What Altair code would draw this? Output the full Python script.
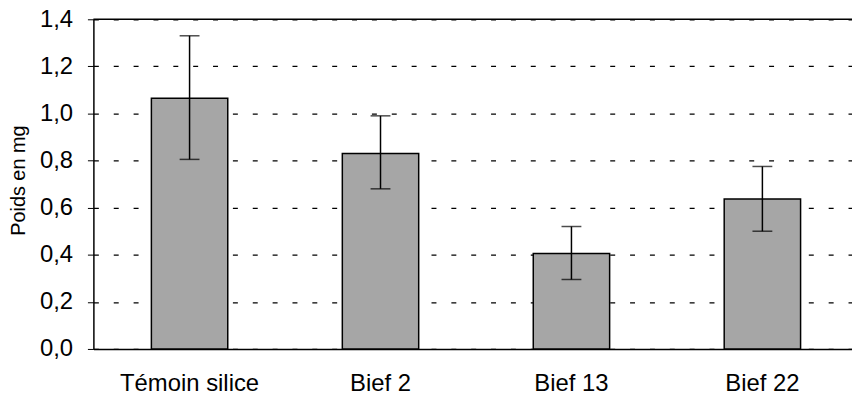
import altair as alt
import pandas as pd

categories = ["Témoin silice", "Bief 2", "Bief 13", "Bief 22"]
means = [1.065, 0.83, 0.405, 0.637]
err_low = [0.805, 0.68, 0.295, 0.50]
err_high = [1.33, 0.99, 0.52, 0.775]
y_ticks = [0.0, 0.2, 0.4, 0.6, 0.8, 1.0, 1.2, 1.4]

df = pd.DataFrame({"cat": categories, "mean": means, "lo": err_low, "hi": err_high})

FONT = "Liberation Sans"

x_scale = alt.Scale(paddingInner=0.6, paddingOuter=0.2865, align=0.53)
x_enc = alt.X("cat:N", sort=categories, title=None, scale=x_scale,
              axis=alt.Axis(labelAngle=0, labelFontSize=24, labelFont=FONT,
                            labelColor="black", labelPadding=23, ticks=False,
                            tickSize=0,
                            domain=True, domainColor="black", domainWidth=1.5))
y_scale = alt.Scale(domain=[0, 1.4], nice=False)
y_axis = alt.Axis(values=y_ticks, format=".1f",
                  labelExpr="replace(datum.label, '.', ',')",
                  labelFontSize=24, labelFont=FONT, labelColor="black",
                  labelPadding=15, tickSize=6, tickColor="black",
                  domainColor="black", domainWidth=1.5,
                  grid=True, gridColor="black", gridDash=[5, 15], gridWidth=1.2,
                  title="Poids en mg", titleFont=FONT, titleFontSize=20,
                  titleFontWeight="normal", titleColor="black",
                  titleX=-75, titleY=162, titleAngle=-90, titleBaseline="middle")

base = alt.Chart(df)

bars = base.mark_bar(color="#a6a6a6", stroke="black", strokeWidth=1.5).encode(
    x=x_enc,
    y=alt.Y("mean:Q", scale=y_scale, axis=y_axis),
)

rules = base.mark_rule(color="black", strokeWidth=1.5).encode(
    x=alt.X("cat:N", sort=categories),
    y="lo:Q",
    y2="hi:Q",
)

caps_hi = base.mark_tick(color="black", thickness=1.5, size=20, orient="horizontal").encode(
    x=alt.X("cat:N", sort=categories),
    y="hi:Q",
)
caps_lo = base.mark_tick(color="black", thickness=1.5, size=20, orient="horizontal").encode(
    x=alt.X("cat:N", sort=categories),
    y="lo:Q",
)

top_df = pd.DataFrame({"v": [1.4]})
top_line = alt.Chart(top_df).mark_rule(color="black", strokeWidth=1.5).encode(
    y=alt.Y("v:Q", scale=y_scale),
)

chart = alt.layer(bars, rules, caps_hi, caps_lo, top_line).properties(
    width=764, height=332,
    autosize=alt.AutoSizeParams(type="none"),
    padding={"left": 86, "top": 10, "right": 0, "bottom": 45},
    background="white",
).configure_view(stroke=None)

chart.save("out.html", embed_options={"renderer": "svg", "actions": False})
